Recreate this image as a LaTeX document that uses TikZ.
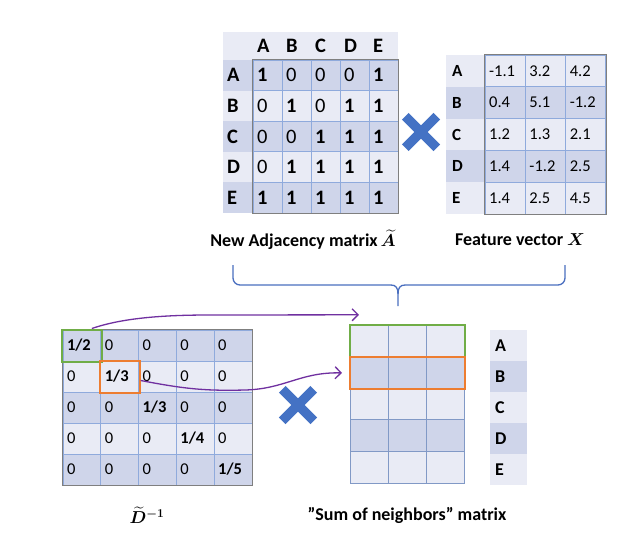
\documentclass[tikz,border=0pt]{standalone}
\usepackage{fontspec}
\usepackage{amsmath}
\setmainfont{Carlito}
\usetikzlibrary{arrows.meta,shapes.misc,calc}

\definecolor{celldark}{HTML}{CFD5EA}
\definecolor{celllight}{HTML}{E9EBF5}
\definecolor{gridblue}{HTML}{8FAADC}
\definecolor{framegray}{HTML}{7F7F7F}
\definecolor{crossblue}{HTML}{4472C4}
\definecolor{bracecol}{HTML}{4A6FC0}
\definecolor{rowgreen}{HTML}{70AD47}
\definecolor{roworange}{HTML}{ED7D31}
\definecolor{linkpurple}{HTML}{7030A0}

\newcommand{\boldformula}[1]{\mbox{\boldmath$#1$}}

\tikzset{
  cellbase/.style={rectangle, draw=gridblue, line width=0.8pt, inner xsep=4pt,
    inner ysep=0pt, align=left, anchor=center},
  acell/.style={cellbase, text width=21pt, minimum height=30.6pt, font=\fontsize{20.5}{20}\selectfont},
  ahead/.style={acell, draw=none, font=\fontsize{20.5}{20}\selectfont\bfseries},
  xcell/.style={cellbase, text width=32pt, minimum height=31.8pt, font=\fontsize{16.5}{17}\selectfont},
  xhead/.style={cellbase, draw=none, inner xsep=6pt, text width=27pt, minimum height=31.8pt,
    font=\fontsize{17}{17}\selectfont\bfseries},
  dcell/.style={cellbase, text width=29.8pt, minimum height=31pt, font=\fontsize{16.5}{17}\selectfont},
  scell/.style={cellbase, draw=gridblue!90!black, text width=30pt, minimum height=31.6pt},
  shead/.style={cellbase, draw=none, inner xsep=5pt, text width=27pt, minimum height=31pt,
    font=\fontsize{18}{18}\selectfont\bfseries},
  outerframe/.style={draw=framegray, line width=1pt},
  greenbox/.style={draw=rowgreen, line width=2pt},
  orangebox/.style={draw=roworange, line width=2pt},
  timesmark/.style={cross out, draw=crossblue, line width=9.5pt, minimum size=22pt, inner sep=0pt},
  link/.style={draw=linkpurple, line width=1.3pt, -{Straight Barb[length=6pt,width=12pt,line width=1.3pt]}},
  bracestyle/.style={draw=bracecol, line width=1.3pt},
  caption/.style={font=\fontsize{18}{18}\selectfont\bfseries, inner sep=0pt},
}

\begin{document}
\begin{tikzpicture}[x=1pt,y=-1pt]
\useasboundingbox (0,0) rectangle (640,541);
\fill[white] (0,0) rectangle (640,541);

% ---------- adjacency matrix A~ ----------
\fill[celllight] (223,32) rectangle (398,60);
\foreach \c [count=\j] in {A,B,C,D,E}
  \node[ahead] (AH-\j) at ({253+29*(\j-0.5)},46) {\c};
\foreach \r [count=\i] in {A,B,C,D,E} {
  \ifodd\i \def\shade{celldark}\else\def\shade{celllight}\fi
  \node[ahead, fill=\shade, text width=22pt] (AR-\i) at (238,{60+30.6*(\i-0.5)}) {\r};
}
\foreach \vals [count=\i] in {{1,0,0,0,1},{0,1,0,1,1},{0,0,1,1,1},{0,1,1,1,1},{1,1,1,1,1}} {
  \ifodd\i \def\shade{celldark}\else\def\shade{celllight}\fi
  \foreach \v [count=\j] in \vals
    \node[acell, fill=\shade] (A-\i-\j) at ({253+29*(\j-0.5)},{60+30.6*(\i-0.5)})
      {\ifnum\v=1 \bfseries\fi\v};
}
\draw[outerframe] (A-1-1.north west) rectangle (A-5-5.south east);

% ---------- feature matrix X ----------
\foreach \r [count=\i] in {A,B,C,D,E} {
  \ifodd\i \def\shade{celllight}\else\def\shade{celldark}\fi
  \node[xhead, fill=\shade] (XR-\i) at (465.5,{55+31.8*(\i-0.5)}) {\r};
}
\foreach \vals [count=\i] in {{-1.1,3.2,4.2},{0.4,5.1,-1.2},{1.2,1.3,2.1},{1.4,-1.2,2.5},{1.4,2.5,4.5}} {
  \ifodd\i \def\shade{celllight}\else\def\shade{celldark}\fi
  \foreach \v [count=\j] in \vals
    \node[xcell, fill=\shade] (X-\i-\j) at ({485+40.3*(\j-0.5)},{55+31.8*(\i-0.5)}) {\v};
}
\draw[outerframe] (X-1-1.north west) rectangle (X-5-3.south east);

% multiplication sign between A~ and X
\node[timesmark] (mul1) at (421,132) {};

% captions of the upper row
\node[caption] (capA) at (303,240) {New Adjacency matrix\,\boldformula{\widetilde{A}}};
\node[caption] (capX) at (520,240) {Feature vector \boldformula{X}};

% brace joining both factors
\coordinate (braceL) at (233,265);
\coordinate (braceR) at (565,265);
\coordinate (braceT) at (398,306);
\draw[bracestyle, rounded corners=7pt] (braceL) -- (233,285) -- (391,285);
\draw[bracestyle, rounded corners=7pt] (braceR) -- (565,285) -- (405,285);
\draw[bracestyle] (391,285) .. controls (396,285) and (398,288) .. (398,294) -- (braceT);
\draw[bracestyle] (405,285) .. controls (400,285) and (398,288) .. (398,294);

% ---------- degree matrix D~^{-1} ----------
\foreach \vals [count=\i] in {{\textbf{1/2},0,0,0,0},{0,\textbf{1/3},0,0,0},{0,0,\textbf{1/3},0,0},{0,0,0,\textbf{1/4},0},{0,0,0,0,\textbf{1/5}}} {
  \ifodd\i \def\shade{celldark}\else\def\shade{celllight}\fi
  \foreach \v [count=\j] in \vals
    \node[dcell, fill=\shade] (D-\i-\j) at ({63+37.8*(\j-0.5)},{330+31*(\i-0.5)}) {\v};
}
\draw[outerframe] (D-1-1.north west) rectangle (D-5-5.south east);
\node[greenbox, minimum width=40pt, minimum height=32pt, inner sep=0pt] (gsel) at (D-1-1) {};
\node[orangebox, minimum width=40pt, minimum height=32pt, inner sep=0pt] (osel) at (D-2-2) {};

% multiplication sign between D~^{-1} and the sum matrix
\node[timesmark] (mul2) at (298,405) {};

% ---------- "sum of neighbors" matrix ----------
\foreach \i in {1,...,5} {
  \ifodd\i \def\shade{celllight}\else\def\shade{celldark}\fi
  \foreach \j in {1,2,3}
    \node[scell, fill=\shade] (S-\i-\j) at ({350+38.33*(\j-0.5)},{325+31.6*(\i-0.5)}) {};
}
\node[greenbox, minimum width=115pt, minimum height=32pt, inner sep=0pt] (grow) at ($(S-1-1)!0.5!(S-1-3)$) {};
\node[orangebox, minimum width=115pt, minimum height=32pt, inner sep=0pt] (orow) at ($(S-2-1)!0.5!(S-2-3)+(0,0.5)$) {};
\foreach \r [count=\i] in {A,B,C,D,E} {
  \ifodd\i \def\shade{celllight}\else\def\shade{celldark}\fi
  \node[shead, fill=\shade] (SR-\i) at (508.5,{330+31*(\i-0.5)}) {\r};
}

% links from the selected diagonal entries to the rows they scale
\draw[link] ([xshift=-11pt]gsel.north east) .. controls (125,317) and (170,315) .. (210,315)
  -- ([xshift=10pt,yshift=9pt]grow.north west);
\draw[link] ([yshift=-4pt]osel.east) .. controls (185,389) and (205,391) .. (245,390)
  .. controls (285,389) and (300,372) .. ([xshift=-7pt]orow.west);

% captions of the lower row
\node[caption] (capD) at (147,515) {\boldformula{\widetilde{D}^{-1}}};
\node[caption] (capS) at (407,515) {”Sum of neighbors” matrix};
\end{tikzpicture}
\end{document}
